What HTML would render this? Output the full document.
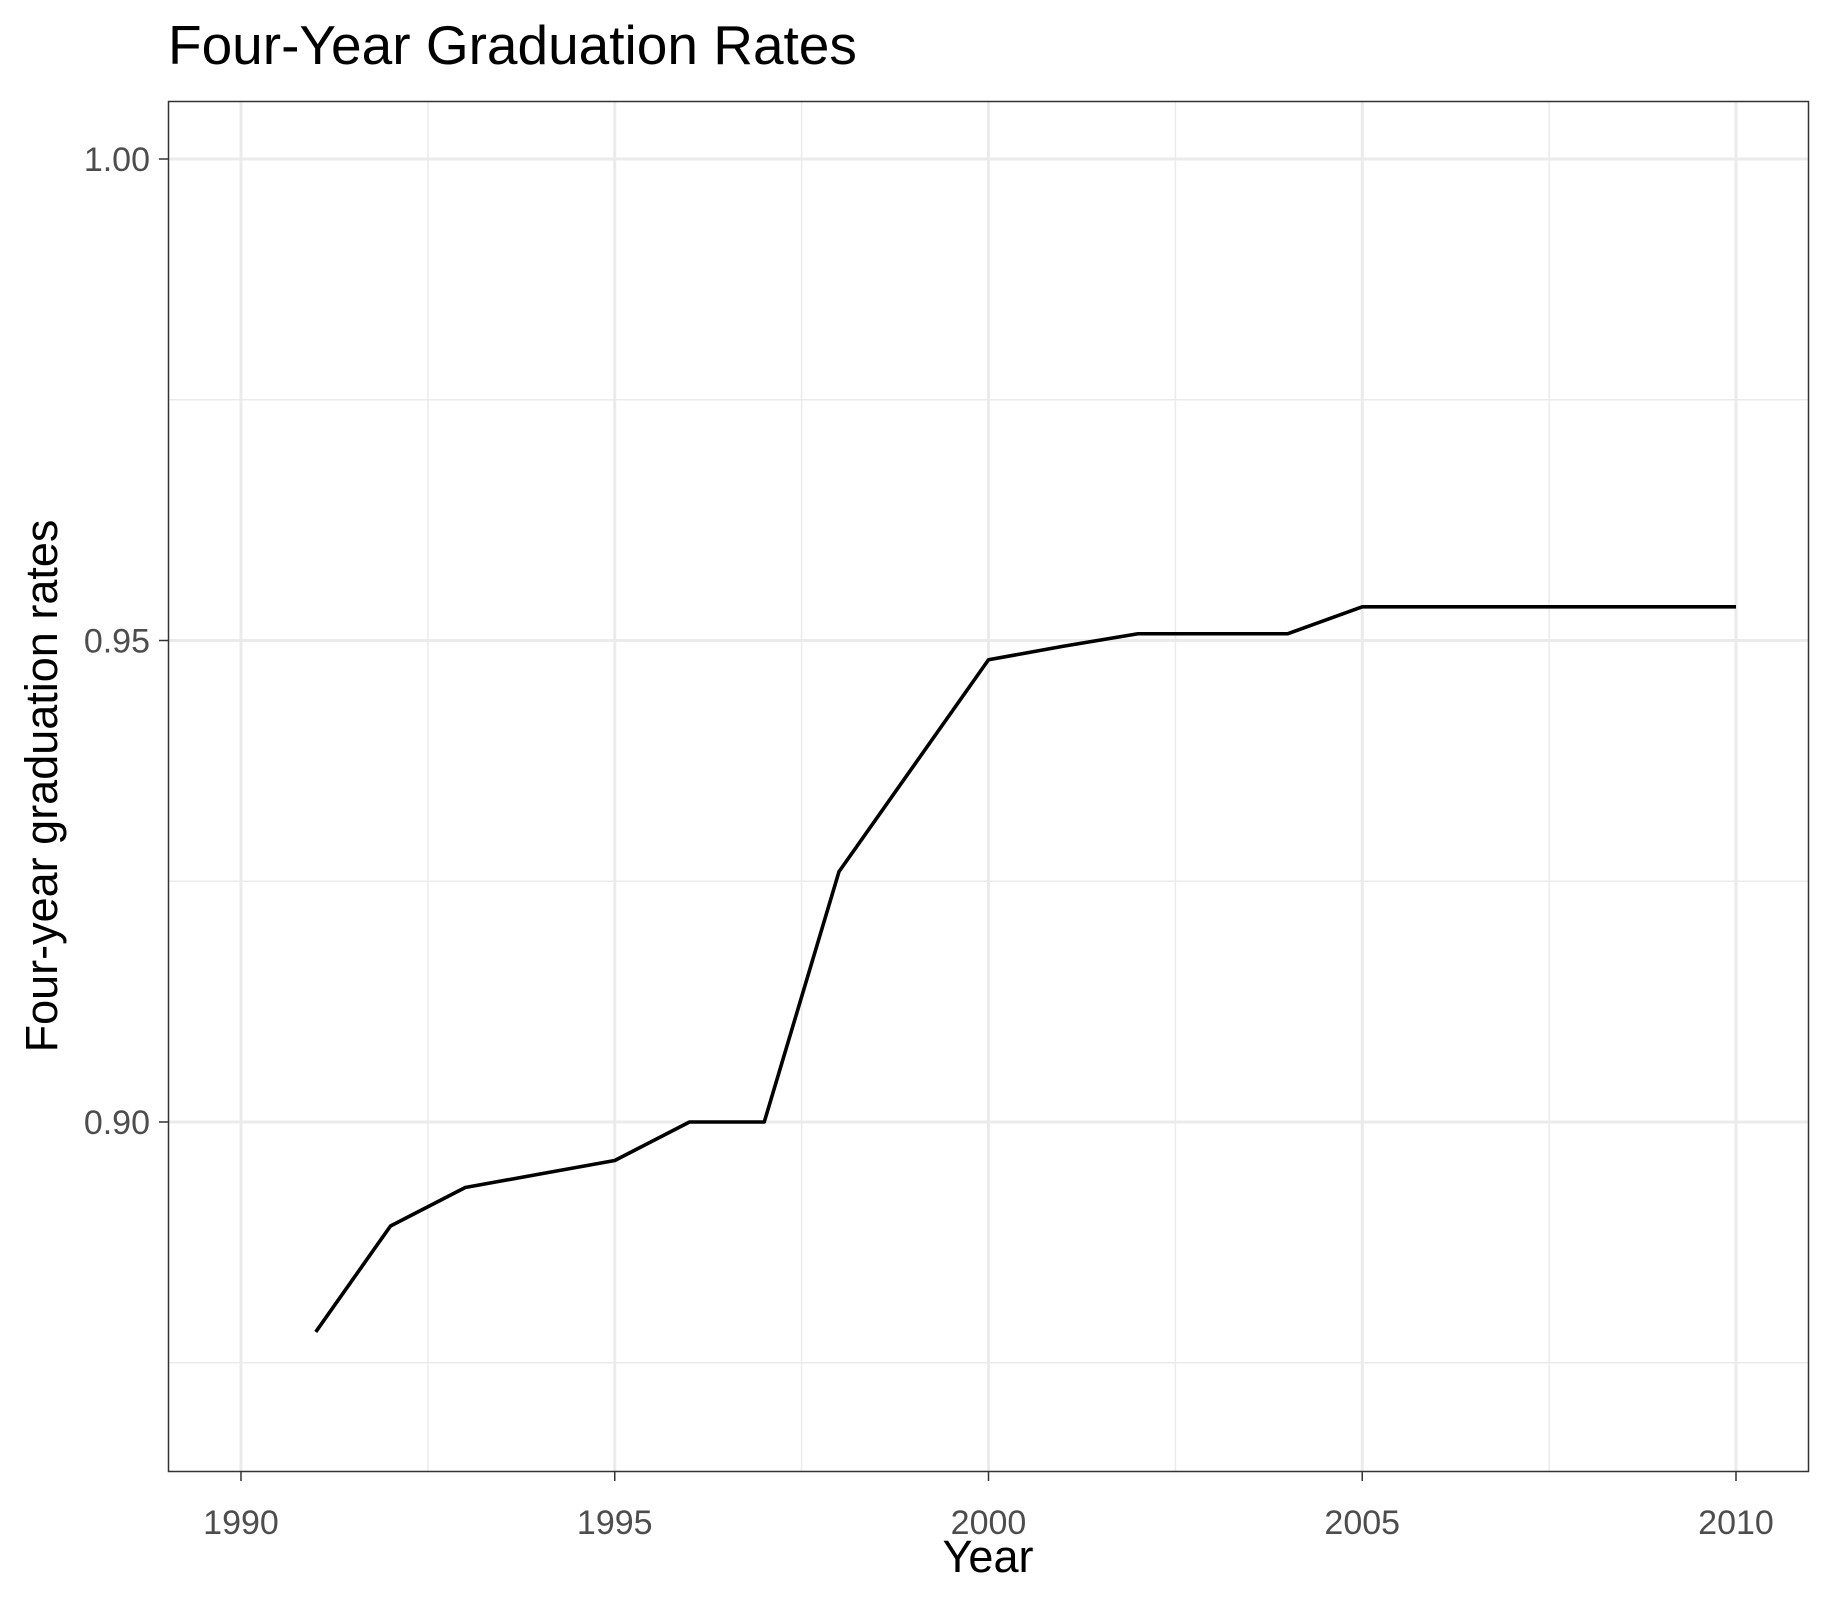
<!DOCTYPE html>
<html><head><meta charset="utf-8"><style>
body{margin:0;background:#fff;}
svg text{font-family:"Liberation Sans",Arial,sans-serif;}
</style></head><body>
<svg id="chart" width="1834" height="1603" xmlns="http://www.w3.org/2000/svg">
<rect width="1834" height="1603" fill="#fff"/>
<text x="168" y="64" font-size="55" fill="#000">Four-Year Graduation Rates</text>
<g id="grid"></g>
<g id="axes"></g>
<path id="line" fill="none" stroke="#000" stroke-width="3.6" stroke-linejoin="round"/>
<rect x="168.5" y="101.5" width="1640" height="1370" fill="none" stroke="#333" stroke-width="1.5"/>
<text x="988" y="1572" font-size="45" text-anchor="middle" fill="#000">Year</text>
<text transform="translate(57,786) rotate(-90)" font-size="45" text-anchor="middle" fill="#000">Four-year graduation rates</text>
</svg>
<script>
const years=[1991,1992,1993,1994,1995,1996,1997,1998,1999,2000,2001,2002,2003,2004,2005,2006,2007,2008,2009,2010];
const rates=[0.8782,0.8892,0.8932,0.8946,0.896,0.900,0.900,0.926,0.937,0.948,0.9494,0.9507,0.9507,0.9507,0.9535,0.9535,0.9535,0.9535,0.9535,0.9535];
const xTicks=[1990,1995,2000,2005,2010];
const xMinor=[1992.5,1997.5,2002.5,2007.5];
const yTicks=[0.90,0.95,1.00];
const yTickLabels=["0.90","0.95","1.00"];
const yMinor=[0.875,0.925,0.975];
function xs(v){return 241+(v-1990)*(1736-241)/20;}
function ys(v){return 1122-(v-0.90)*(1122-159)/0.10;}
const NS="http://www.w3.org/2000/svg";
const grid=document.getElementById('grid'),axes=document.getElementById('axes');
function mk(tag,attrs,parent){const e=document.createElementNS(NS,tag);for(const k in attrs)e.setAttribute(k,attrs[k]);parent.appendChild(e);return e;}
xMinor.forEach(v=>{const l=mk('line',{x1:xs(v),x2:xs(v),y1:102,y2:1471,stroke:'#ebebeb','stroke-width':1.5},grid);

});
yMinor.forEach(v=>{const l=mk('line',{x1:169,x2:1808,y1:ys(v),y2:ys(v),stroke:'#ebebeb','stroke-width':1.5},grid);

});
xTicks.forEach(v=>{const l=mk('line',{x1:xs(v),x2:xs(v),y1:102,y2:1471,stroke:'#ebebeb','stroke-width':3},grid);


const t=mk('line',{x1:xs(v),x2:xs(v),y1:1472,y2:1481,stroke:'#333','stroke-width':1.5},axes);


const tx=mk('text',{x:xs(v),y:1534,'font-size':34,'text-anchor':'middle',fill:'#4d4d4d'},axes);tx.textContent=v;

});
yTicks.forEach((v,i)=>{const l=mk('line',{x1:169,x2:1808,y1:ys(v),y2:ys(v),stroke:'#ebebeb','stroke-width':3},grid);


const t=mk('line',{x1:159,x2:168,y1:ys(v),y2:ys(v),stroke:'#333','stroke-width':1.5},axes);


const tx=mk('text',{x:150,y:ys(v)+12,'font-size':34,'text-anchor':'end',fill:'#4d4d4d'},axes);tx.textContent=yTickLabels[i];

});
document.getElementById('line').setAttribute('d',years.map((y,i)=>(i?'L':'M')+xs(y)+','+ys(rates[i])).join(' '));
</script>
</body></html>
